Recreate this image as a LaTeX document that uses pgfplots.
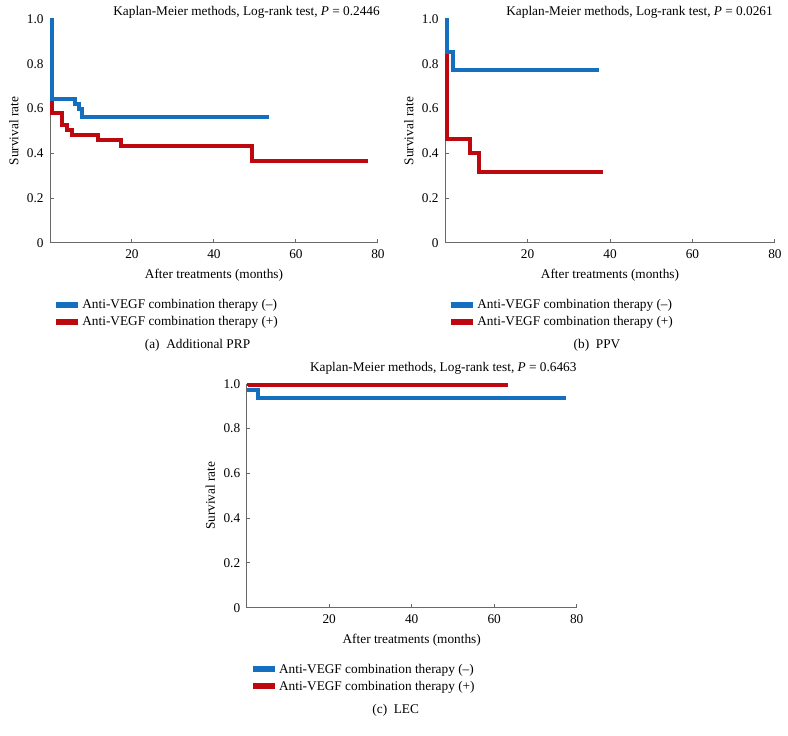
\documentclass[border=0pt]{standalone}
\usepackage{pgfplots}
\pgfplotsset{compat=1.18}
\usepackage{fontspec}
\setmainfont{Liberation Serif}
\definecolor{kmblue}{RGB}{20,112,190}
\definecolor{kmred}{RGB}{190,8,16}
\definecolor{axgray}{RGB}{105,105,105}
\newcommand{\fs}{\fontsize{13.3bp}{15bp}\selectfont}
\pgfplotsset{
  kmstyle/.style={
    scale only axis, height=224bp,
    xmin=0, xmax=80, ymin=0, ymax=1,
    axis x line=bottom, axis y line=left,
    axis line style={draw=axgray, line width=1bp, -},
    tick align=inside, major tick length=3.5bp,
    every tick/.style={draw=axgray, line width=1bp},
    xtick={20,40,60,80},
    ytick={0,0.2,0.4,0.6,0.8,1.0},
    yticklabels={0,0.2,0.4,0.6,0.8,1.0},
    /pgf/number format/assume math mode=true,
    ticklabel style={font=\fs},
    xticklabel style={yshift=-3bp},
    yticklabel style={xshift=-3bp},
    xlabel={After treatments (months)},
    ylabel={Survival rate},
    label style={font=\fs},
    xlabel style={at={(axis description cs:0.5,-0.143)}, anchor=center},
    ylabel style={at={(axis description cs:-0.11,0.5)}, anchor=center},
    reverse legend,
    legend cell align=left,
    legend style={draw=none, fill=none, font=\fs, anchor=north west,
      at={(axis description cs:0,-0.236)}, row sep=4bp,
      nodes={inner sep=1.2bp}},
    legend image code/.code={\draw[##1, line width=6bp, solid] (0bp,0bp) -- (22bp,0bp);},
  },
  kmline/.style={const plot, no marks, line width=4bp},
}
\begin{document}
\begin{tikzpicture}
\path[use as bounding box] (0,0) rectangle (788bp,736bp);

% (a) Additional PRP
\begin{axis}[kmstyle, width=328bp, at={(50bp,493bp)}, anchor=south west]
\addplot[kmline, kmred] coordinates {
(0,1.0) (0.5,0.580) (2.85,0.527) (4.05,0.504) (5.4,0.481) (11.75,0.458) (17.3,0.433) (49.2,0.367) (77.6,0.367)};
\addlegendentry{Anti-VEGF combination therapy (+)}
\addplot[kmline, kmblue] coordinates {
(0,1.0) (0.5,0.644) (6.1,0.622) (7.05,0.600) (7.7,0.561) (53.5,0.561)};
\addlegendentry{Anti-VEGF combination therapy (--)}
\end{axis}

% (b) PPV
\begin{axis}[kmstyle, width=330bp, at={(445bp,493bp)}, anchor=south west]
\addplot[kmline, kmred] coordinates {
(0,1.0) (0.5,0.463) (6.0,0.401) (8.2,0.317) (38.2,0.317)};
\addlegendentry{Anti-VEGF combination therapy (+)}
\addplot[kmline, kmblue] coordinates {
(0,1.0) (0.5,0.854) (2.0,0.771) (37.3,0.771)};
\addlegendentry{Anti-VEGF combination therapy (--)}
\end{axis}

% (c) LEC
\begin{axis}[kmstyle, width=330bp, at={(246.7bp,128.3bp)}, anchor=south west]
\addplot[kmline, kmred] coordinates {
(0,1.0) (0.8,0.992) (63.3,0.992)};
\addlegendentry{Anti-VEGF combination therapy (+)}
\addplot[kmline, kmblue] coordinates {
(0,0.971) (2.8,0.938) (77.3,0.938)};
\addlegendentry{Anti-VEGF combination therapy (--)}
\end{axis}

\node[anchor=east, font=\fs, inner sep=0pt] at (380bp,723.5bp) {Kaplan-Meier methods, Log-rank test, \textit{P} = 0.2446};
\node[anchor=east, font=\fs, inner sep=0pt] at (773bp,723.5bp) {Kaplan-Meier methods, Log-rank test, \textit{P} = 0.0261};
\node[anchor=east, font=\fs, inner sep=0pt] at (576.7bp,367.7bp) {Kaplan-Meier methods, Log-rank test, \textit{P} = 0.6463};

\node[font=\fs] at (197.5bp,391bp) {(a)\enspace Additional PRP};
\node[font=\fs] at (597bp,391bp) {(b)\enspace PPV};
\node[font=\fs] at (395.7bp,26bp) {(c)\enspace LEC};
\end{tikzpicture}
\end{document}
